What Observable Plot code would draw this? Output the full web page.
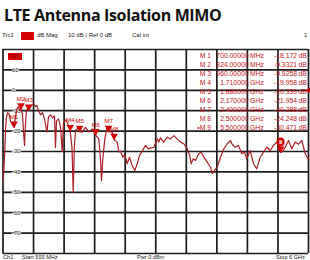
<!DOCTYPE html>
<html><head><meta charset="utf-8">
<script src="https://cdn.jsdelivr.net/npm/d3@7"></script>
<script src="https://cdn.jsdelivr.net/npm/@observablehq/plot@0.6"></script>
<style>
body{margin:0;background:#fff;}
#wrap{position:relative;width:310px;height:260px;overflow:hidden;font-family:"Liberation Sans",Arial,sans-serif;}
#title{position:absolute;left:4px;top:4px;font-family:"Open Sans",sans-serif;font-weight:700;font-size:16px;letter-spacing:-0.35px;line-height:22px;color:#111;white-space:nowrap;}
#hdr{position:absolute;left:0;top:31px;width:310px;height:9px;font-size:6px;line-height:9px;color:#222;}
#hdr span{position:absolute;top:0;white-space:nowrap;}
#hdr .box{top:0.5px;width:13px;height:8px;background:#d40000;}
#chart{position:absolute;left:0;top:40px;}
#s21{position:absolute;left:8px;top:53px;width:14px;height:7px;background:#d40000;color:#800;font-size:5px;line-height:7px;text-align:center;}
#tbl{position:absolute;left:0;top:0;width:310px;height:260px;color:#c8141e;font-size:6.8px;}
#tbl span{position:absolute;white-space:nowrap;line-height:8px;}
#foot{position:absolute;left:0;top:254px;width:310px;font-size:5.6px;line-height:6px;color:#222;}
#foot span{position:absolute;top:0;white-space:nowrap;}
</style></head>
<body>
<div id="wrap">
  <div id="title">LTE Antenna Isolation MIMO</div>
  <div id="hdr">
    <span style="left:2px">Trc1</span>
    <span class="box" style="left:20.5px"></span>
    <span style="left:37px">dB Mag</span>
    <span style="left:68px">10 dB / Ref 0 dB</span>
    <span style="left:132px">Cal int</span>
    <span style="left:304px">1</span>
  </div>
  <div id="chart"></div>
  <div id="s21">S21</div>
  <div id="tbl"></div>
  <div id="foot">
    <span style="left:3px">Ch1</span>
    <span style="left:22px">Start 500 MHz</span>
    <span style="left:137px">Pwr 0 dBm</span>
    <span style="left:276px">Stop 6 GHz</span>
  </div>
</div>
<script>
// Trace (frequency in GHz, S21 in dB)
const traceGHz = [0.500,0.518,0.532,0.545,0.558,0.581,0.608,0.635,0.671,0.700,0.725,0.752,0.779,0.806,0.824,0.851,0.869,0.887,0.905,0.923,0.941,0.960,0.986,1.013,1.049,1.085,1.112,1.139,1.175,1.211,1.247,1.292,1.319,1.355,1.391,1.427,1.445,1.463,1.499,1.535,1.566,1.589,1.625,1.661,1.710,1.742,1.764,1.784,1.805,1.865,1.880,1.926,1.985,2.045,2.106,2.170,2.225,2.255,2.273,2.297,2.333,2.376,2.400,2.466,2.500,2.556,2.585,2.615,2.657,2.693,2.736,2.777,2.826,2.873,2.916,2.957,3.006,3.065,3.114,3.155,3.215,3.276,3.305,3.335,3.395,3.456,3.516,3.575,3.636,3.696,3.755,3.816,3.863,3.888,3.924,3.966,4.025,4.068,4.115,4.176,4.236,4.266,4.308,4.356,4.416,4.475,4.536,4.596,4.619,4.680,4.740,4.799,4.848,4.889,4.950,5.010,5.069,5.130,5.190,5.249,5.310,5.370,5.429,5.470,5.500,5.532,5.580,5.640,5.699,5.761,5.820,5.879,5.941,6.000];
const traceDb = [-44,-38,-30,-20,-14,-11,-11.5,-15,-17,-18.2,-13,-9,-8,-10,-9.3,-12,-20,-27,-16,-10,-9,-9.9,-8.5,-7.5,-6.5,-8,-7.5,-10,-12,-11,-14,-20.5,-13,-12,-13.5,-12.5,-28,-15,-14,-18,-30,-16,-14.5,-16,-20,-28,-50,-28,-19.7,-18.1,-20.3,-20.5,-18.1,-20.5,-18.9,-21.95,-23.8,-33.6,-44.2,-33.6,-23.8,-18.1,-20.3,-20.5,-24.25,-25.4,-30.3,-29.8,-32.8,-31.5,-36,-32.8,-36.9,-39.3,-36,-32,-29.8,-27,-28.7,-28.2,-27.9,-23.8,-25.4,-23.3,-25.4,-23,-23.8,-22.2,-23.8,-25.4,-26.2,-28.7,-32,-36,-33.6,-34.4,-31.1,-30.3,-32.8,-35.2,-37.7,-40.9,-39.3,-37.7,-32.8,-28.7,-26.2,-24.6,-26.2,-27.9,-27,-31.1,-30.3,-33.6,-29.5,-36,-38.5,-32.8,-30.3,-27.9,-29.5,-27,-25.4,-27,-30.47,-30,-27.9,-24.6,-28.7,-25.4,-26.5,-24.6,-31.1,-34];

// Markers
const markerNames = ["M1","M2","M3","M4","M5","M6","M7","M8","M9"];
const markerGHz = [0.7,0.824,0.96,1.71,1.88,2.17,2.4,2.5,5.5];
const markerDb = [-18.172,-9.3321,-9.9258,-19.958,-20.339,-21.954,-20.288,-24.248,-30.471];
const activeMarker = "M9";

// Axes / grid
const xGridGHz = [0.5,1.05,1.6,2.15,2.7,3.25,3.8,4.35,4.9,5.45,6.0];
const yGridDb = [20,10,0,-10,-20,-30,-40,-50,-60,-70,-80];
const yLabels = [10,0,-10,-20,-30,-40,-50,-60,-70];
const refLevel = [0];

const trace = traceGHz.map((f, i) => ({f, db: traceDb[i]}));
const markers = markerNames.map((m, i) => ({m, f: markerGHz[i], db: markerDb[i]}));
const red = "#d40000";

const chart = Plot.plot({
  width: 310, height: 220,
  marginTop: 9, marginBottom: 7, marginLeft: 2.5, marginRight: 2,
  x: {type: "linear", domain: [0.5, 6], axis: null},
  y: {domain: [-80, 20], axis: null},
  style: {background: "transparent", fontFamily: "Liberation Sans, Arial, sans-serif"},
  marks: [
    Plot.ruleX(xGridGHz, {x: d => d, stroke: "#1c1c1c", strokeWidth: 1.7}),
    Plot.ruleY(yGridDb, {y: d => d, stroke: "#1c1c1c", strokeWidth: 1.7}),
    Plot.text(yLabels, {y: d => d, text: d => String(d), frameAnchor: "left", dx: 9, fontSize: 5.8, fill: "#222", stroke: "white", strokeWidth: 1.2}),
    Plot.line(trace, {x: "f", y: "db", stroke: "#ad1f27", strokeWidth: 1.2}),
    Plot.dot(markers, {x: "f", y: "db", symbol: "triangle", r: 2.8, rotate: 180, dy: -3.8, fill: red, stroke: "none"}),
    Plot.text(markers.filter(d => d.m !== activeMarker), {x: "f", y: "db", text: "m", dy: -10.5, fontSize: 6.2, fill: red}),
    Plot.text(markers.filter(d => d.m === activeMarker), {x: "f", y: "db", text: d => d.m.slice(1), dy: -10.5, fontSize: 6, fontWeight: "bold", fill: "white", stroke: red, strokeWidth: 5}),
    Plot.dot(refLevel, {y: d => d, frameAnchor: "right", symbol: "triangle", rotate: -90, r: 2.2, dx: 0.5, fill: red, stroke: "none"})
  ]
});
document.getElementById("chart").appendChild(chart);

// Marker table
const tbl = document.getElementById("tbl");
markers.forEach((d, i) => {
  const top = 51.5 + i * 9.1;
  const freq = d.f < 1 ? (d.f * 1000).toFixed(5) : d.f.toFixed(6);
  const unit = d.f < 1 ? "MHz" : "GHz";
  const name = (d.m === activeMarker ? "\u2022" : "") + "M " + d.m.slice(1);
  const cells = [
    {t: name, right: 310 - 211},
    {t: freq, right: 310 - 248.5},
    {t: unit, left: 250},
    {t: d.db.toPrecision(5), right: 310 - 297},
    {t: "dB", left: 298.5}
  ];
  cells.forEach(c => {
    const s = document.createElement("span");
    s.textContent = c.t;
    s.style.top = top + "px";
    if (c.left != null) s.style.left = c.left + "px"; else s.style.right = c.right + "px";
    tbl.appendChild(s);
  });
});
</script>
</body></html>
